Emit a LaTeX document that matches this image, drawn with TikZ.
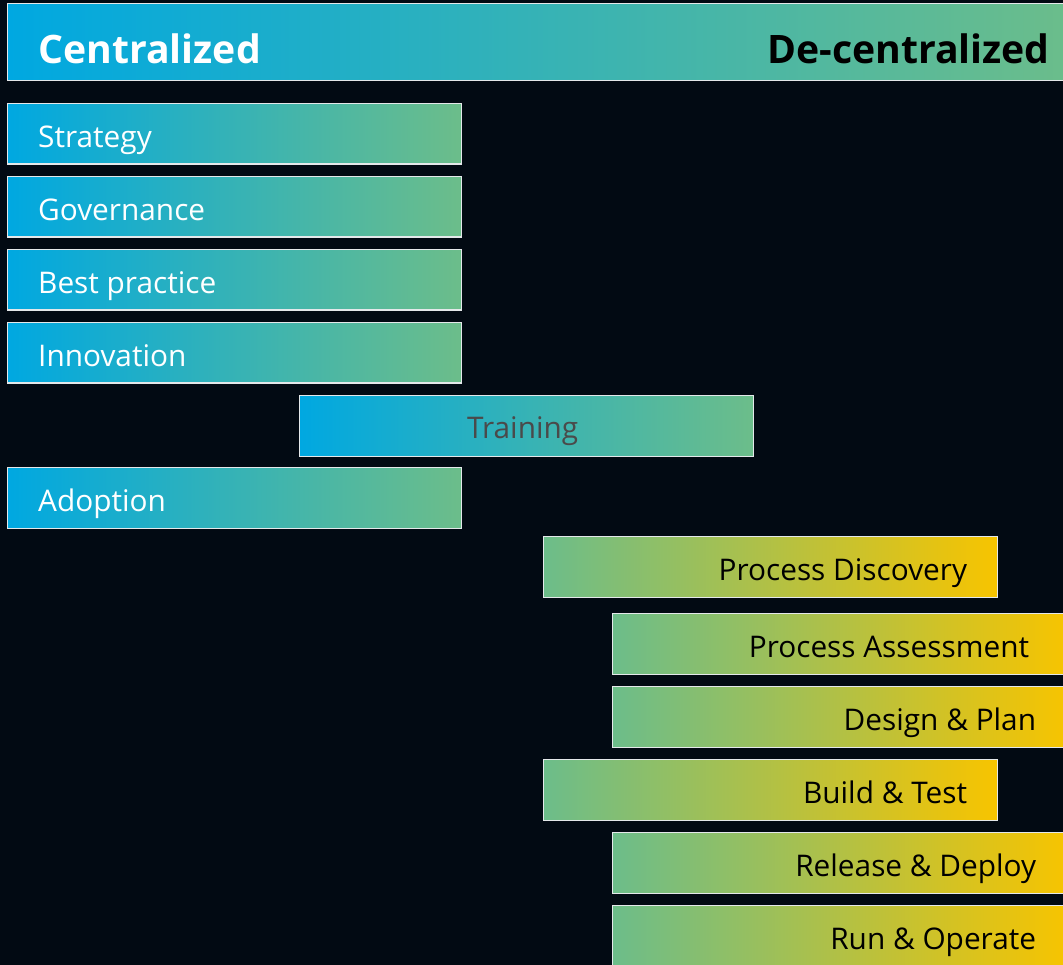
\documentclass[tikz,border=0pt]{standalone}
\usepackage{fontspec}
\setmainfont{Open Sans}
\usetikzlibrary{calc}
\definecolor{bgcol}{HTML}{020A13}
\definecolor{cblue}{HTML}{00A8E1}
\definecolor{cgreen}{HTML}{6CBD8A}
\definecolor{cyellow}{HTML}{F7C400}
\definecolor{edgecol}{HTML}{E4E8EA}
\definecolor{graytext}{HTML}{4A4A4A}
\begin{document}
\begin{tikzpicture}[x=1pt,y=-1pt,
  bar/.style={draw=edgecol, line width=1.3pt, inner sep=0pt, minimum height=60.5pt,
    minimum width=454pt, anchor=north west},
  cbox/.style={bar, left color=cblue, right color=cgreen},
  dbox/.style={bar, left color=cgreen, right color=cyellow},
  ltext/.style={anchor=base west, font=\fontsize{29.8}{34}\selectfont, text=white, inner sep=0pt},
  rtext/.style={anchor=base east, font=\fontsize{29.8}{34}\selectfont, text=black, inner sep=0pt},
  ttext/.style={anchor=base west, font=\fontsize{39.2}{46}\selectfont\bfseries, inner sep=0pt}]
\useasboundingbox (0,0) rectangle (1063,965);
\fill[bgcol] (0,0) rectangle (1063,965);
\clip (0,0) rectangle (1063,965);
% header bar
\node[bar, minimum width=1070pt, minimum height=77pt, left color=cblue, right color=cgreen] (top) at (7,3) {};
\node[ttext, text=white] (tc) at ($(top.west)+(31,21)$) {Centralized};
\node[ttext, text=black, anchor=base east] (td) at ($(top.west)+(1043,21)$) {De-centralized};
% centralized boxes
\node[cbox] (b1) at (7,103) {};
\node[ltext] (b1t) at ($(b1.west)+(31,13.5)$) {Strategy};
\node[cbox] (b2) at (7,176) {};
\node[ltext] (b2t) at ($(b2.west)+(31,13.5)$) {Governance};
\node[cbox] (b3) at (7,249) {};
\node[ltext] (b3t) at ($(b3.west)+(31,13.5)$) {Best practice};
\node[cbox] (b4) at (7,322) {};
\node[ltext] (b4t) at ($(b4.west)+(31,13.5)$) {Innovation};
\node[cbox] (b5) at (299,395) {};
\node[ltext, anchor=base, text=graytext] (b5t) at ($(b5.center)+(-4,12.5)$) {Training};
\node[cbox] (b6) at (7,467) {};
\node[ltext] (b6t) at ($(b6.west)+(31,13.5)$) {Adoption};
% de-centralized boxes
\node[dbox] (d1) at (543,536) {};
\node[rtext] (d1t) at ($(d1.east)+(-31,13.5)$) {Process Discovery};
\node[dbox] (d2) at (612,613) {};
\node[rtext] (d2t) at ($(d2.east)+(-38,13.5)$) {Process Assessment};
\node[dbox] (d3) at (612,686) {};
\node[rtext] (d3t) at ($(d3.east)+(-31,13.5)$) {Design \& Plan};
\node[dbox] (d4) at (543,759) {};
\node[rtext] (d4t) at ($(d4.east)+(-31,13.5)$) {Build \& Test};
\node[dbox] (d5) at (612,832) {};
\node[rtext] (d5t) at ($(d5.east)+(-31,13.5)$) {Release \& Deploy};
\node[dbox] (d6) at (612,905) {};
\node[rtext] (d6t) at ($(d6.east)+(-31,13.5)$) {Run \& Operate};
\end{tikzpicture}
\end{document}
